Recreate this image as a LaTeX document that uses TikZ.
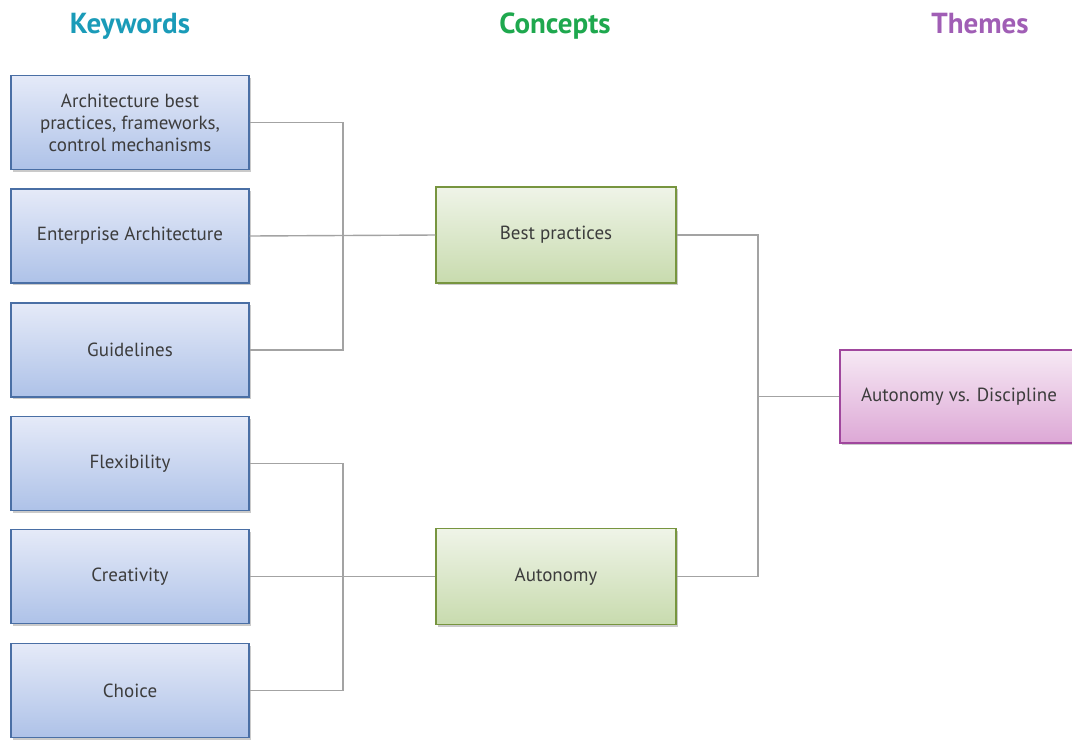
\documentclass[tikz,border=0pt]{standalone}
\usepackage{fontspec}
\setmainfont{PT Sans}
\usetikzlibrary{shadows}
\definecolor{kwtitle}{HTML}{1A9BB8}
\definecolor{cotitle}{HTML}{1EA84E}
\definecolor{thtitle}{HTML}{A05EB5}
\definecolor{txt}{HTML}{3C3C3C}
\definecolor{link}{HTML}{A3A3A3}
\definecolor{kwbord}{HTML}{4A6FA5}
\definecolor{kwtop}{HTML}{E5EAF8}
\definecolor{kwbot}{HTML}{AEC2E8}
\definecolor{cobord}{HTML}{77953F}
\definecolor{cotop}{HTML}{EFF4E8}
\definecolor{cobot}{HTML}{C8DBAE}
\definecolor{thbord}{HTML}{A0479D}
\definecolor{thtop}{HTML}{F6E9F4}
\definecolor{thbot}{HTML}{DDA8D6}
\tikzset{
  box/.style={draw, line width=1.4pt, minimum width=238pt, minimum height=94pt,
    align=center, text=txt, font=\fontsize{19}{22}\selectfont, inner sep=0pt,
    drop shadow={shadow xshift=1.5pt, shadow yshift=-2pt, opacity=0.35, fill=black!60}},
  kwbox/.style={box, draw=kwbord, top color=kwtop, bottom color=kwbot},
  cobox/.style={box, draw=cobord, top color=cotop, bottom color=cobot, minimum width=240pt, minimum height=96pt},
  thbox/.style={box, draw=thbord, top color=thtop, bottom color=thbot, minimum width=238pt, minimum height=93pt},
  title/.style={font=\bfseries\fontsize{29}{32}\selectfont, anchor=base},
  wire/.style={draw=link, line width=1.4pt}
}
\begin{document}
\begin{tikzpicture}[x=1pt,y=-1pt]
\useasboundingbox (0,0) rectangle (1072,740);
% column headings
\node[title, text=kwtitle] (hkw) at (130,33) {Keywords};
\node[title, text=cotitle] (hco) at (555,33) {Concepts};
\node[title, text=thtitle] (hth) at (980,33) {Themes};
% keyword boxes
\node[kwbox] (k1) at (130,122.5) {Architecture best\\practices, frameworks,\\control mechanisms};
\node[kwbox] (k2) at (130,236) {Enterprise Architecture};
\node[kwbox] (k3) at (130,350) {Guidelines};
\node[kwbox] (k4) at (130,463.5) {Flexibility};
\node[kwbox] (k5) at (130,576.5) {Creativity};
\node[kwbox] (k6) at (130,690.5) {Choice};
% concept boxes
\node[cobox] (c1) at (556,235) {Best practices};
\node[cobox] (c2) at (556,576.5) {Autonomy};
% theme box
\node[thbox] (t1) at (959,396.5) {Autonomy vs. Discipline};
% junction points
\coordinate (j1) at (343,236);
\coordinate (j2) at (343,576.5);
\coordinate (j3) at (758,396.5);
% keyword to concept links
\draw[wire] (k1.east) -| (j1);
\draw[wire] (k3.east) -| (j1);
\draw[wire] (k2.east) -- (c1.west);
\draw[wire] (k4.east) -| (j2);
\draw[wire] (k6.east) -| (j2);
\draw[wire] (k5.east) -- (c2.west);
% concept to theme links
\draw[wire] (c1.east) -| (j3);
\draw[wire] (c2.east) -| (j3);
\draw[wire] (j3) -- (t1.west);
\end{tikzpicture}
\end{document}
